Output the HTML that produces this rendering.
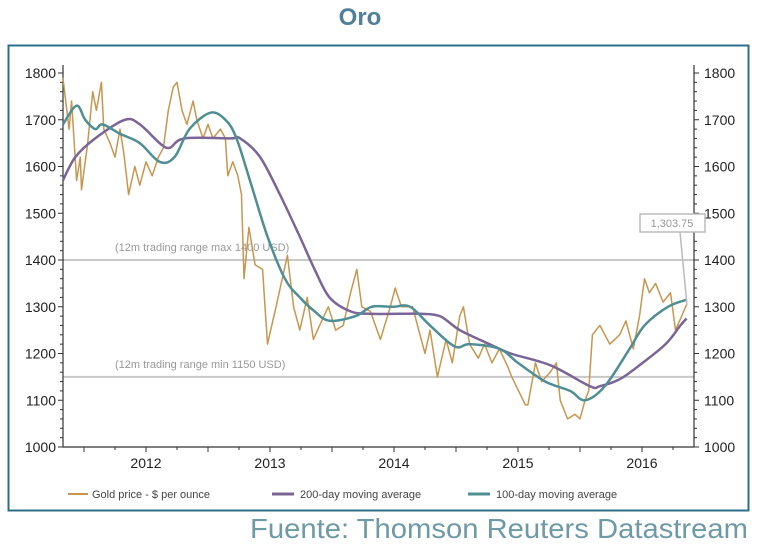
<!DOCTYPE html>
<html><head><meta charset="utf-8"><style>
body{margin:0;background:#fff;width:757px;height:550px;overflow:hidden;font-family:"Liberation Sans",sans-serif}
</style></head><body>
<svg width="757" height="550" xmlns="http://www.w3.org/2000/svg">
<text x="360" y="25" text-anchor="middle" font-size="24" font-weight="bold" fill="#4f7f99">Oro</text>
<rect x="8.5" y="45.5" width="740" height="465" fill="none" stroke="#2d6f87" stroke-width="2"/>
<g id="axes"></g>
<g id="series"></g>
<g>
<line x1="680" y1="232" x2="687" y2="305" stroke="#bbb" stroke-width="1.5"/>
<rect x="640" y="214" width="65" height="18" fill="#fff" stroke="#bbb" stroke-width="1.5"/>
<text x="672" y="227" text-anchor="middle" font-size="11" fill="#999">1,303.75</text>
</g>
<g font-size="11" fill="#444">
<line x1="68" y1="494" x2="88" y2="494" stroke="#c8964f" stroke-width="2"/><text x="92" y="498">Gold price - $ per ounce</text>
<line x1="272" y1="494" x2="294" y2="494" stroke="#7b6596" stroke-width="3"/><text x="300" y="498">200-day moving average</text>
<line x1="468" y1="494" x2="490" y2="494" stroke="#4f8f93" stroke-width="3"/><text x="496" y="498">100-day moving average</text>
</g>
<text x="250" y="538" font-size="28" fill="#6e9aa6" textLength="498" lengthAdjust="spacingAndGlyphs">Fuente: Thomson Reuters Datastream</text>
</svg>
<script>
const goldDates=[2011.33,2011.38,2011.40,2011.44,2011.47,2011.48,2011.53,2011.57,2011.60,2011.64,2011.66,2011.71,2011.75,2011.79,2011.82,2011.86,2011.91,2011.95,2012.00,2012.05,2012.10,2012.14,2012.18,2012.22,2012.25,2012.29,2012.33,2012.38,2012.41,2012.46,2012.50,2012.54,2012.60,2012.64,2012.66,2012.70,2012.74,2012.77,2012.79,2012.83,2012.88,2012.94,2012.96,2012.98,2013.04,2013.14,2013.19,2013.24,2013.30,2013.35,2013.40,2013.47,2013.53,2013.59,2013.65,2013.70,2013.74,2013.81,2013.89,2013.97,2014.01,2014.06,2014.15,2014.21,2014.25,2014.29,2014.35,2014.42,2014.47,2014.53,2014.56,2014.61,2014.68,2014.73,2014.79,2014.85,2014.92,2014.95,2015.06,2015.08,2015.14,2015.19,2015.26,2015.31,2015.34,2015.40,2015.46,2015.50,2015.54,2015.57,2015.60,2015.66,2015.74,2015.82,2015.87,2015.93,2015.98,2016.02,2016.06,2016.11,2016.17,2016.23,2016.27,2016.32,2016.36];
const goldValues=[1790,1680,1740,1570,1620,1550,1650,1760,1720,1780,1680,1650,1620,1680,1630,1540,1600,1560,1610,1580,1620,1640,1720,1770,1780,1720,1690,1740,1700,1660,1690,1660,1680,1660,1580,1610,1580,1540,1360,1470,1390,1380,1300,1220,1290,1410,1300,1250,1320,1230,1260,1300,1250,1260,1330,1380,1300,1290,1230,1300,1340,1300,1300,1240,1200,1250,1150,1230,1180,1280,1300,1220,1190,1220,1180,1210,1170,1150,1090,1090,1180,1140,1160,1180,1100,1060,1070,1060,1100,1120,1240,1260,1220,1240,1270,1210,1280,1360,1330,1350,1310,1330,1250,1280,1305];
const ma200Dates=[2011.33,2011.43,2011.59,2011.83,2011.95,2012.11,2012.19,2012.31,2012.68,2012.76,2012.92,2013.08,2013.24,2013.36,2013.48,2013.65,2013.81,2014.05,2014.21,2014.37,2014.53,2014.77,2014.94,2015.26,2015.58,2015.66,2015.82,2015.98,2016.19,2016.31,2016.36];
const ma200Values=[1570,1620,1660,1700,1690,1650,1640,1660,1660,1660,1620,1540,1450,1380,1320,1290,1285,1285,1285,1280,1250,1220,1200,1175,1130,1130,1145,1175,1220,1260,1275];
const ma100Dates=[2011.33,2011.44,2011.51,2011.59,2011.65,2011.79,2011.95,2012.11,2012.23,2012.35,2012.52,2012.64,2012.73,2012.85,2012.98,2013.12,2013.24,2013.36,2013.48,2013.69,2013.82,2013.99,2014.13,2014.29,2014.49,2014.61,2014.85,2015.00,2015.22,2015.42,2015.54,2015.70,2015.90,2016.02,2016.21,2016.36];
const ma100Values=[1690,1730,1700,1680,1690,1670,1650,1610,1620,1680,1715,1700,1660,1560,1450,1360,1320,1290,1270,1280,1300,1300,1300,1260,1215,1220,1210,1180,1140,1120,1100,1130,1210,1260,1300,1315];
const yTicks=[1000,1100,1200,1300,1400,1500,1600,1700,1800];
const xYears=[2012,2013,2014,2015,2016];
const refLevels=[1400,1150];
const refLabels=["(12m trading range max 1400 USD)","(12m trading range min 1150 USD)"];

const NS="http://www.w3.org/2000/svg";
const X0=63,X1=694;
const xs=d=>146+(d-2012)*124;
const ys=v=>447-(v-1000)*0.4675;
function mk(tag,attrs,parent){const e=document.createElementNS(NS,tag);for(const k in attrs)e.setAttribute(k,attrs[k]);parent.appendChild(e);return e;}
const ax=document.getElementById('axes'),se=document.getElementById('series');

refLevels.forEach((v,i)=>{
 const l=mk('line',{x1:X0,x2:X1,y1:ys(v),y2:ys(v),stroke:'#c8c8c8','stroke-width':2},ax);
 
 
 const t=mk('text',{x:115,y:ys(v)-9,'font-size':11,fill:'#999'},ax);t.textContent=refLabels[i];
 
 
});
[X0,X1].forEach(x=>{mk('line',{x1:x,x2:x,y1:ys(1800)-8,y2:ys(1000),stroke:'#333','stroke-width':1.2},ax);});
mk('line',{x1:X0,x2:X1,y1:ys(1000),y2:ys(1000),stroke:'#333','stroke-width':1.2},ax);
for(let v=1000;v<=1800;v+=20){const y=ys(v),w=v%100===0?5:3;
 mk('line',{x1:X0-w,x2:X0,y1:y,y2:y,stroke:'#333'},ax);mk('line',{x1:X1,x2:X1+w,y1:y,y2:y,stroke:'#333'},ax);}
yTicks.forEach(v=>{
 const a=mk('text',{x:56,y:ys(v)+5,'text-anchor':'end','font-size':14,fill:'#222'},ax);a.textContent=v;
 
 
 const b=mk('text',{x:704,y:ys(v)+5,'font-size':14,fill:'#222'},ax);b.textContent=v;
 
 
});
for(let d=2011.5;d<=2016.5;d+=0.25){const x=xs(d);if(x<X0||x>X1)continue;
 mk('line',{x1:x,x2:x,y1:ys(1000),y2:ys(1000)+(d%0.5===0?5:3),stroke:'#333'},ax);}
xYears.forEach(yr=>{const t=mk('text',{x:xs(yr),y:468,'text-anchor':'middle','font-size':14,fill:'#222'},ax);t.textContent=yr;
 
 });

function line(dates,vals,color,w,name){
 const p=mk('polyline',{points:dates.map((d,i)=>xs(d).toFixed(1)+','+ys(vals[i]).toFixed(1)).join(' '),fill:'none',stroke:color,'stroke-width':w,'stroke-linejoin':'round'},se);
 
 
}
function smooth(dates,vals,color,w,name){
 const P=dates.map((d,i)=>[xs(d),ys(vals[i])]);
 let s='M'+P[0][0].toFixed(1)+','+P[0][1].toFixed(1);
 for(let i=0;i<P.length-1;i++){
  const p0=P[Math.max(0,i-1)],p1=P[i],p2=P[i+1],p3=P[Math.min(P.length-1,i+2)];
  const c1=[p1[0]+(p2[0]-p0[0])/6,p1[1]+(p2[1]-p0[1])/6],c2=[p2[0]-(p3[0]-p1[0])/6,p2[1]-(p3[1]-p1[1])/6];
  s+=' C'+c1.map(v=>v.toFixed(1)).join(',')+' '+c2.map(v=>v.toFixed(1)).join(',')+' '+p2.map(v=>v.toFixed(1)).join(',');
 }
 const p=mk('path',{d:s,fill:'none',stroke:color,'stroke-width':w},se);
 
 
}
line(goldDates,goldValues,'#c8964f',1.5,'gold-price-line');
smooth(ma200Dates,ma200Values,'#7b6596',2.5,'ma200-line');
smooth(ma100Dates,ma100Values,'#4f8f93',2.5,'ma100-line');
</script>
</body></html>
